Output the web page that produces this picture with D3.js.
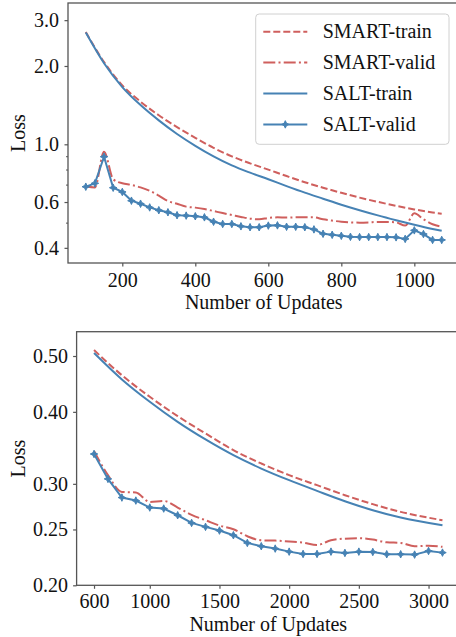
<!DOCTYPE html>
<html><head><meta charset="utf-8">
<script src="https://cdn.jsdelivr.net/npm/d3@7/dist/d3.min.js"></script>
<style>
html,body{margin:0;padding:0;background:#fff;}
svg{display:block;}
text{font-family:"Liberation Serif","Times New Roman",serif;fill:#111;}
</style></head>
<body><svg id="c" width="456" height="637"></svg>
<script>
// ---------- data: top panel ----------
const topTrainSteps = [100,150,200,250,300,350,400,450,500,550,600,650,700,750,800,850,900,950,1000,1050,1075];
const topSmartTrain = [2.70,2.07,1.685,1.458,1.293,1.164,1.059,0.969,0.899,0.845,0.799,0.755,0.715,0.681,0.651,0.624,0.601,0.580,0.562,0.547,0.541];
const topSaltTrain  = [2.69,2.05,1.66,1.415,1.236,1.096,0.987,0.899,0.830,0.778,0.734,0.691,0.652,0.618,0.586,0.558,0.533,0.511,0.491,0.473,0.465];
const topValidSteps = [100,125,150,175,200,225,250,275,300,325,350,375,400,425,450,475,500,525,550,575,600,625,650,675,700,725,750,775,800,825,850,875,900,925,950,975,1000,1025,1050,1075];
const topSmartValid = [0.690,0.683,0.937,0.734,0.708,0.698,0.683,0.663,0.635,0.605,0.591,0.576,0.571,0.564,0.554,0.544,0.535,0.526,0.518,0.515,0.521,0.524,0.523,0.524,0.524,0.524,0.515,0.509,0.504,0.501,0.500,0.501,0.503,0.503,0.501,0.487,0.543,0.515,0.493,0.482];
const topSaltValid  = [0.687,0.708,0.896,0.681,0.656,0.607,0.591,0.572,0.558,0.548,0.534,0.532,0.529,0.524,0.504,0.494,0.494,0.484,0.480,0.480,0.487,0.488,0.482,0.482,0.480,0.471,0.453,0.449,0.445,0.441,0.440,0.440,0.440,0.440,0.439,0.433,0.467,0.452,0.429,0.429];
const topXTicks = [200,400,600,800,1000];
const topYTicks = [0.4,0.6,1.0,2.0,3.0];
const topYMinor = [0.5,0.7,0.8,0.9];

// ---------- data: bottom panel ----------
const botTrainSteps = [600,800,1000,1200,1400,1600,1800,2000,2200,2400,2600,2800,3100];
const botSmartTrain = [0.512,0.463,0.4248,0.3932,0.3669,0.3432,0.3254,0.3106,0.2984,0.2867,0.2766,0.2682,0.2594];
const botSaltTrain  = [0.506,0.4553,0.4164,0.3843,0.3582,0.3364,0.3189,0.3044,0.2917,0.2799,0.2700,0.2622,0.2542];
const botValidSteps = [600,700,800,900,1000,1100,1200,1300,1400,1500,1600,1700,1800,1900,2000,2100,2200,2300,2400,2500,2600,2700,2800,2900,3000,3100];
const botSmartValid = [0.342,0.3106,0.2905,0.2898,0.2791,0.2802,0.2729,0.2650,0.2594,0.2539,0.2502,0.2433,0.2394,0.2391,0.2382,0.2372,0.2350,0.2394,0.2410,0.2414,0.2401,0.2375,0.2369,0.2338,0.2342,0.2332];
const botSaltValid  = [0.338,0.306,0.284,0.2806,0.2729,0.2718,0.2646,0.2566,0.2526,0.2489,0.2443,0.2369,0.2338,0.2316,0.2288,0.2267,0.2267,0.2288,0.2276,0.2288,0.2285,0.2264,0.2264,0.2261,0.2294,0.2279];
const botXTicks = [600,1000,1500,2000,2500,3000];
const botYTicks = [0.20,0.25,0.30,0.40,0.50];

const seriesNames = ["SMART-train","SMART-valid","SALT-train","SALT-valid"];

// ---------- styles ----------
const RED = "#cf5f5d", BLUE = "#4682b4";
const LW = 2;
const DASH = "7,3";
const DASHDOT = "12,3.2,2,3.2";
const SPINE = "#555";
const FS = 20;
// four-pointed star marker
const star4 = {
  draw(ctx, size) {
    const r = Math.sqrt(size) * 0.8, ri = r * 0.45;
    for (let k = 0; k < 8; k++) {
      const a = k * Math.PI / 4 - Math.PI / 2;
      const rr = k % 2 === 0 ? r : ri;
      const px = rr * Math.cos(a), py = rr * Math.sin(a);
      if (k === 0) ctx.moveTo(px, py); else ctx.lineTo(px, py);
    }
    ctx.closePath();
  }
};
const MARK = d3.symbol(star4, 22);

const svg = d3.select("#c");

function panel(cfg) {
  const x = d3.scaleLinear().domain(cfg.xDomain).range(cfg.xRange);
  const y = d3.scaleLog().domain(cfg.yDomain).range(cfg.yRange);
  const g = svg.append("g");
  const smooth = d3.line().x(d => x(d[0])).y(d => y(d[1])).curve(d3.curveMonotoneX);
  const straight = d3.line().x(d => x(d[0])).y(d => y(d[1]));
  const zip = (a, b) => a.map((v, i) => [v, b[i]]);

  g.append("path").datum(zip(cfg.trainSteps, cfg.smartTrain))
    .attr("d", smooth).attr("fill","none").attr("stroke",RED).attr("stroke-width",LW).attr("stroke-dasharray",DASH);
  g.append("path").datum(zip(cfg.validSteps, cfg.smartValid))
    .attr("d", smooth).attr("fill","none").attr("stroke",RED).attr("stroke-width",LW).attr("stroke-dasharray",DASHDOT);
  g.append("path").datum(zip(cfg.trainSteps, cfg.saltTrain))
    .attr("d", smooth).attr("fill","none").attr("stroke",BLUE).attr("stroke-width",LW);
  const sv = zip(cfg.validSteps, cfg.saltValid);
  g.append("path").datum(sv)
    .attr("d", straight).attr("fill","none").attr("stroke",BLUE).attr("stroke-width",LW);
  g.selectAll(".mk").data(sv).join("path")
    .attr("transform", d => `translate(${x(d[0])},${y(d[1])})`)
    .attr("d", MARK).attr("fill",BLUE).attr("stroke",BLUE).attr("stroke-width",1).attr("stroke-linejoin","round");

  const xa = g.append("g").attr("transform",`translate(0,${cfg.yRange[0]})`)
    .call(d3.axisBottom(x).tickValues(cfg.xTicks).tickFormat(d3.format("d")).tickSize(3.5).tickSizeOuter(0).tickPadding(cfg.xPad));
  const ya = g.append("g").attr("transform",`translate(${cfg.xRange[0]},0)`)
    .call(d3.axisLeft(y).tickValues(cfg.yTicks).tickFormat(d3.format(cfg.yFmt)).tickSize(3.5).tickSizeOuter(0).tickPadding(cfg.yPad));
  if (cfg.yMinor) {
    g.append("g").attr("transform",`translate(${cfg.xRange[0]},0)`)
      .call(d3.axisLeft(y).tickValues(cfg.yMinor).tickFormat("").tickSize(2).tickSizeOuter(0))
      .call(a => a.select(".domain").remove())
      .selectAll("line").attr("stroke",SPINE).attr("stroke-width",1);
  }
  [xa, ya].forEach(a => {
    a.select(".domain").remove();
    a.selectAll("line").attr("stroke",SPINE).attr("stroke-width",1.2);
    a.selectAll("text").attr("font-size",FS).attr("fill","#111");
  });

  g.append("rect").attr("x",cfg.xRange[0]).attr("y",cfg.yRange[1])
    .attr("width",cfg.xRange[1]-cfg.xRange[0]).attr("height",cfg.yRange[0]-cfg.yRange[1])
    .attr("fill","none").attr("stroke",SPINE).attr("stroke-width",1.3);

  g.append("text").attr("x",(cfg.xRange[0]+cfg.xRange[1])/2).attr("y",cfg.xLabelY)
    .attr("text-anchor","middle").attr("font-size",FS).text("Number of Updates");
  g.append("text").attr("transform",`translate(25,${(cfg.yRange[0]+cfg.yRange[1])/2}) rotate(-90)`)
    .attr("text-anchor","middle").attr("font-size",FS).text("Loss");
  return g;
}

panel({
  xDomain:[51.25,1123.75], xRange:[68,459.5],
  yDomain:[0.3498,3.492], yRange:[263,3],
  trainSteps:topTrainSteps, smartTrain:topSmartTrain, saltTrain:topSaltTrain,
  validSteps:topValidSteps, smartValid:topSmartValid, saltValid:topSaltValid,
  xTicks:topXTicks, yTicks:topYTicks, yMinor:topYMinor, yFmt:".1f",
  xPad:6.5, yPad:5.5, xLabelY:309
});
panel({
  xDomain:[475,3225], xRange:[76.6,459.9],
  yDomain:[0.2,0.551], yRange:[585.3,331.7],
  trainSteps:botTrainSteps, smartTrain:botSmartTrain, saltTrain:botSaltTrain,
  validSteps:botValidSteps, smartValid:botSmartValid, saltValid:botSaltValid,
  xTicks:botXTicks, yTicks:botYTicks, yMinor:null, yFmt:".2f",
  xPad:5.5, yPad:5, xLabelY:631
});

// legend (top panel)
const lg = svg.append("g");
lg.append("rect").attr("x",255.7).attr("y",14).attr("width",193.3).attr("height",130.3)
  .attr("rx",3.5).attr("fill","#fff").attr("fill-opacity",0.85).attr("stroke","#d0d0d0").attr("stroke-width",1);
const lgStyles = [
  {c:RED, d:DASH, m:false},
  {c:RED, d:DASHDOT, m:false},
  {c:BLUE, d:null, m:false},
  {c:BLUE, d:null, m:true}
];
seriesNames.forEach((name, i) => {
  const cy = 31.7 + i * 30.9;
  const s = lgStyles[i];
  const l = lg.append("line").attr("x1",263.3).attr("x2",307.3).attr("y1",cy).attr("y2",cy)
    .attr("stroke",s.c).attr("stroke-width",LW);
  if (s.d) l.attr("stroke-dasharray",s.d);
  if (s.m) lg.append("path").attr("transform",`translate(285.3,${cy})`)
    .attr("d", MARK).attr("fill",BLUE).attr("stroke",BLUE).attr("stroke-width",1).attr("stroke-linejoin","round");
  lg.append("text").attr("x",322.7).attr("y",cy+6.6).attr("font-size",FS).text(name);
});
</script></body></html>
